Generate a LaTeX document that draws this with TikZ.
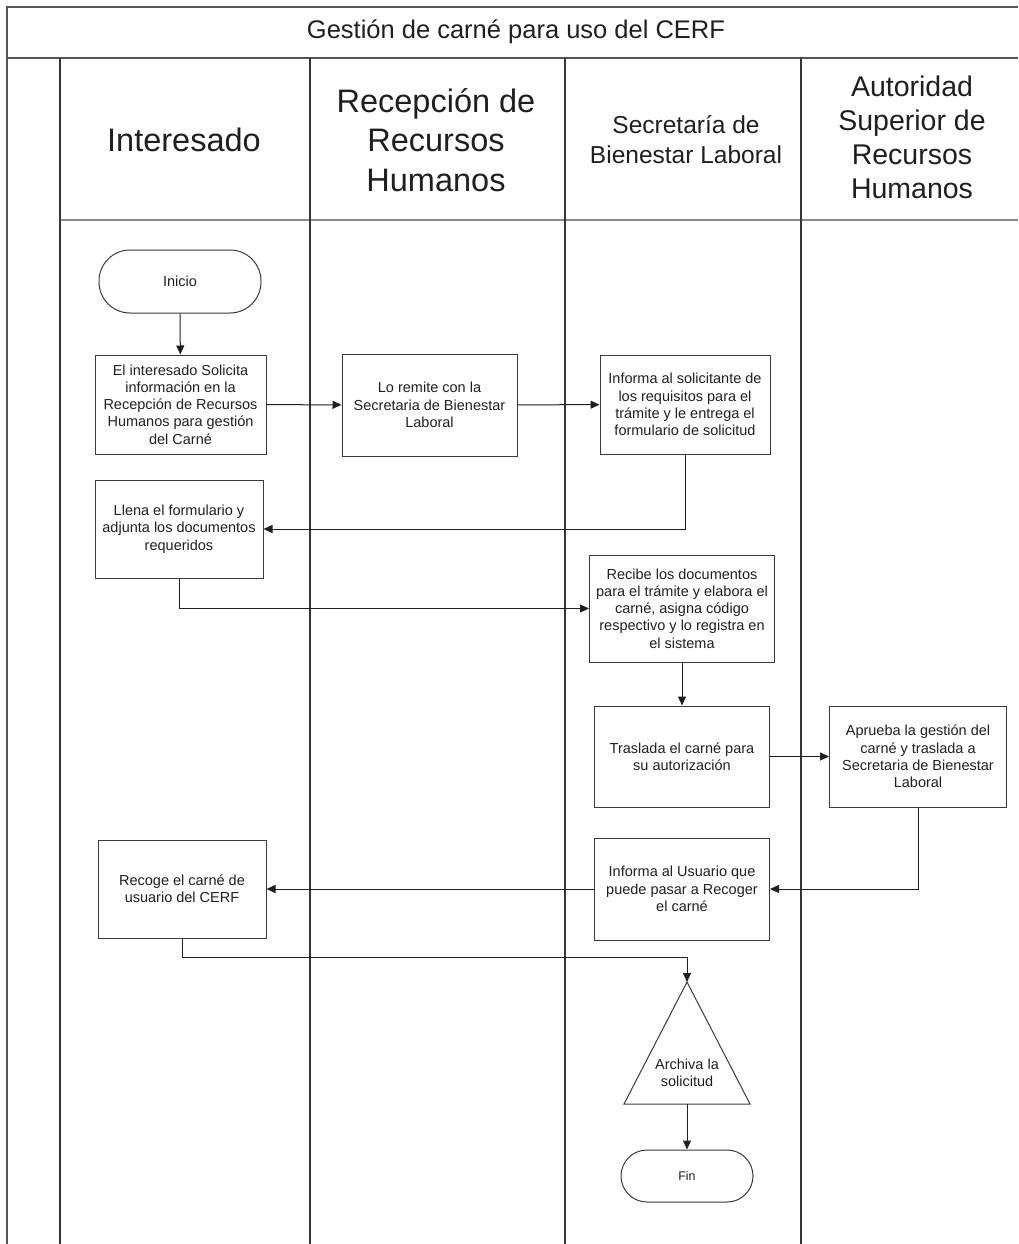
\documentclass[tikz,border=0pt]{standalone}
\usepackage{fontspec}
\setmainfont{Liberation Sans}
\usepackage{tikz}
\usetikzlibrary{arrows.meta,positioning}
\definecolor{tinta}{HTML}{1F1F1F}
\definecolor{borde}{HTML}{3A3A3A}
\definecolor{gris}{HTML}{8A8A8A}
\definecolor{marcogris}{HTML}{555555}

\begin{document}
\begin{tikzpicture}[x=1pt,y=-1pt,>={Triangle[length=9pt,width=8pt]},
  marco/.style={draw=marcogris,line width=1.3pt},
  carril/.style={draw=tinta!90,line width=1.3pt},
  encabezado/.style={draw=gris,line width=2pt},
  cabecera/.style={text=tinta,align=center,inner sep=0pt},
  caja/.style={draw=borde,line width=1pt,align=center,inner sep=1pt,text=tinta,
    font=\fontsize{14.5}{17.3}\selectfont},
  terminal/.style={caja,rounded corners=#1},
  flecha/.style={->,draw=tinta,line width=1pt}]
\useasboundingbox (0,0) rectangle (1018,1244);
% marco, titulo y carriles
\draw[marco] (7,1244) -- (7,7) -- (1018,7);
\draw[marco] (7,58) -- (1018,58);
\draw[encabezado] (60,220) -- (1018,220);
\foreach \x in {60,310,565,801}
  \draw[carril] (\x,58) -- (\x,1244);
\node[cabecera,font=\fontsize{25.5}{30}\selectfont] (titulo) at (516,32) {Gestión de carné para uso del CERF};
\node[cabecera,font=\fontsize{32.5}{39.5}\selectfont] (interesado) at (184,139.5) {Interesado};
\node[cabecera,font=\fontsize{32.5}{39.5}\selectfont] (recepcion) at (436,140) {Recepción de\\Recursos\\Humanos};
\node[cabecera,font=\fontsize{24.5}{30}\selectfont] (secretaria) at (686,140) {Secretaría de\\Bienestar Laboral};
\node[cabecera,font=\fontsize{28.5}{34}\selectfont] (autoridad) at (912,137) {Autoridad\\Superior de\\Recursos\\Humanos};
% actividades
\node[terminal=31pt,minimum width=162pt,minimum height=63pt] (inicio) at (180,281.5) {Inicio};
\node[caja,minimum width=171pt,minimum height=99pt] (solicita) at (180.5,404.5) {El interesado Solicita\\información en la\\Recepción de Recursos\\Humanos para gestión\\del Carné};
\node[caja,minimum width=175pt,minimum height=102pt] (remite) at (429.5,405) {Lo remite con la\\Secretaria de Bienestar\\Laboral};
\node[caja,minimum width=170pt,minimum height=99pt] (informa) at (685,404.5) {Informa al solicitante de\\los requisitos para el\\trámite y le entrega el\\formulario de solicitud};
\node[caja,minimum width=168pt,minimum height=98pt] (llena) at (179,529) {Llena el formulario y\\adjunta los documentos\\requeridos};
\node[caja,minimum width=185pt,minimum height=107pt] (recibe) at (682,608.5) {Recibe los documentos\\para el trámite y elabora el\\carné, asigna código\\respectivo y lo registra en\\el sistema};
\node[caja,minimum width=175pt,minimum height=101pt] (traslada) at (682,756.5) {Traslada el carné para\\su autorización};
\node[caja,minimum width=177pt,minimum height=101pt] (aprueba) at (918,756.5) {Aprueba la gestión del\\carné y traslada a\\Secretaria de Bienestar\\Laboral};
\node[caja,minimum width=175pt,minimum height=102pt] (avisa) at (682,889) {Informa al Usuario que\\puede pasar a Recoger\\el carné};
\node[caja,minimum width=168pt,minimum height=98pt] (recoge) at (182,889) {Recoge el carné de\\usuario del CERF};
% archivo
\coordinate (apice) at (687,982);
\coordinate (base) at (687,1104);
\coordinate (codo) at (687,957);
\draw[draw=borde,line width=1pt] (apice) -- (750,1104) -- (624,1104) -- cycle;
\node[cabecera,font=\fontsize{14.5}{17.3}\selectfont] (archiva) at (687,1073) {Archiva la\\solicitud};
\node[terminal=26pt,minimum width=132pt,minimum height=52pt,font=\fontsize{12.5}{15}\selectfont] (fin) at (687,1176) {Fin};
% conectores
\draw[flecha] (inicio) -- (solicita);
\draw[flecha] (solicita) -- (remite);
\draw[flecha] (remite) -- (informa);
\draw[flecha] (informa.south) |- (llena.east);
\draw[flecha] (llena.south) |- (recibe.west);
\draw[flecha] (recibe) -- (traslada);
\draw[flecha] (traslada) -- (aprueba);
\draw[flecha] (aprueba.south) |- (avisa.east);
\draw[flecha] (avisa) -- (recoge);
\draw[flecha] (recoge.south) |- (codo) -- (apice);
\draw[flecha] (base) -- (fin);
\end{tikzpicture}
\end{document}
